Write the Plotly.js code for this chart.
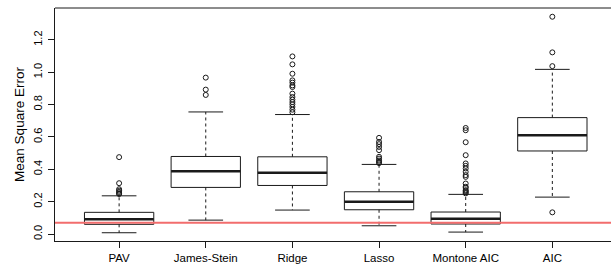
<!DOCTYPE html>
<html>
<head>
<meta charset="utf-8">
<script src="https://cdn.plot.ly/plotly-3.0.1.min.js"></script>
<style>html,body{margin:0;padding:0;background:#fff;}#chart{width:611px;height:267px;}</style>
</head>
<body>
<div id="chart"></div>
<script>
const categories = ["PAV", "James-Stein", "Ridge", "Lasso", "Montone AIC", "AIC"];
const q1 = [0.060, 0.288, 0.300, 0.150, 0.062, 0.513];
const median = [0.092, 0.388, 0.378, 0.199, 0.094, 0.610];
const q3 = [0.134, 0.479, 0.477, 0.261, 0.136, 0.719];
const lowerWhisker = [0.008, 0.086, 0.148, 0.051, 0.012, 0.228];
const upperWhisker = [0.236, 0.754, 0.738, 0.430, 0.245, 1.017];
const outliers = [
  [0.475, 0.314, 0.277, 0.268, 0.260, 0.252, 0.247],
  [0.966, 0.892, 0.859],
  [1.097, 1.048, 0.990, 0.949, 0.935, 0.918, 0.908, 0.867, 0.846, 0.830, 0.815, 0.801, 0.785, 0.768, 0.752],
  [0.594, 0.569, 0.555, 0.538, 0.518, 0.477, 0.466, 0.454, 0.446, 0.438],
  [0.655, 0.641, 0.567, 0.487, 0.436, 0.421, 0.405, 0.384, 0.364, 0.353, 0.312, 0.292, 0.285, 0.271, 0.265, 0.258, 0.251],
  [1.342, 1.122, 1.037, 0.134]
];
const referenceLine = 0.07;
const yTicks = [0, 0.2, 0.4, 0.6, 0.8, 1.0, 1.2];

const pos = categories.map((c, i) => i + 1);
const halfBox = 0.4, halfStaple = 0.2;
const boxX = [], boxY = [], medX = [], medY = [], whX = [], whY = [], stX = [], stY = [], oX = [], oY = [];
pos.forEach((p, i) => {
  boxX.push(p - halfBox, p + halfBox, p + halfBox, p - halfBox, p - halfBox, null);
  boxY.push(q1[i], q1[i], q3[i], q3[i], q1[i], null);
  medX.push(p - halfBox, p + halfBox, null);
  medY.push(median[i], median[i], null);
  whX.push(p, p, null, p, p, null);
  whY.push(q3[i], upperWhisker[i], null, q1[i], lowerWhisker[i], null);
  stX.push(p - halfStaple, p + halfStaple, null, p - halfStaple, p + halfStaple, null);
  stY.push(upperWhisker[i], upperWhisker[i], null, lowerWhisker[i], lowerWhisker[i], null);
  outliers[i].forEach(v => { oX.push(p); oY.push(v); });
});

const ink = "#1a1a1a";
const traces = [
  {x: whX, y: whY, mode: "lines", line: {color: ink, width: 1, dash: "3px,3px"}, hoverinfo: "skip"},
  {x: stX, y: stY, mode: "lines", line: {color: ink, width: 1}, hoverinfo: "skip"},
  {x: boxX, y: boxY, mode: "lines", fill: "none", line: {color: ink, width: 1}, hoverinfo: "skip"},
  {x: medX, y: medY, mode: "lines", line: {color: ink, width: 2.5}, hoverinfo: "skip"},
  {x: oX, y: oY, mode: "markers", marker: {symbol: "circle-open", size: 5, color: ink, line: {width: 1, color: ink}}, hoverinfo: "skip"}
];

const layout = {
  width: 611, height: 267,
  margin: {l: 55, r: 0, t: 8, b: 26, pad: 0},
  paper_bgcolor: "#fff", plot_bgcolor: "#fff",
  showlegend: false,
  font: {family: "Liberation Sans, Arial, sans-serif", size: 11, color: "#000"},
  xaxis: {
    range: [0.26, 6.677], tickvals: pos, ticktext: categories,
    ticks: "outside", ticklen: 6, tickcolor: ink, showgrid: false, zeroline: false,
    tickfont: {size: 11.5},
    showline: true, linecolor: ink, linewidth: 1, fixedrange: true
  },
  yaxis: {
    range: [-0.043, 1.396], tickvals: yTicks, ticktext: yTicks.map(v => v.toFixed(1)),
    ticks: "outside", ticklen: 6, tickcolor: ink, tickangle: -90, ticklabelstandoff: 2,
    showgrid: false, zeroline: false, showline: true, linecolor: ink, linewidth: 1,
    title: {text: "Mean Square Error", font: {size: 13.5}, standoff: 3}, fixedrange: true
  },
  shapes: [
    {type: "line", xref: "paper", yref: "paper", x0: 0, x1: 1, y0: 1, y1: 1, line: {color: ink, width: 1}},
    {type: "line", xref: "paper", yref: "y", x0: 0, x1: 1, y0: referenceLine, y1: referenceLine, line: {color: "#f26d6d", width: 2}, layer: "above"}
  ]
};

Plotly.newPlot("chart", traces, layout, {displayModeBar: false, staticPlot: true});
</script>
</body>
</html>
